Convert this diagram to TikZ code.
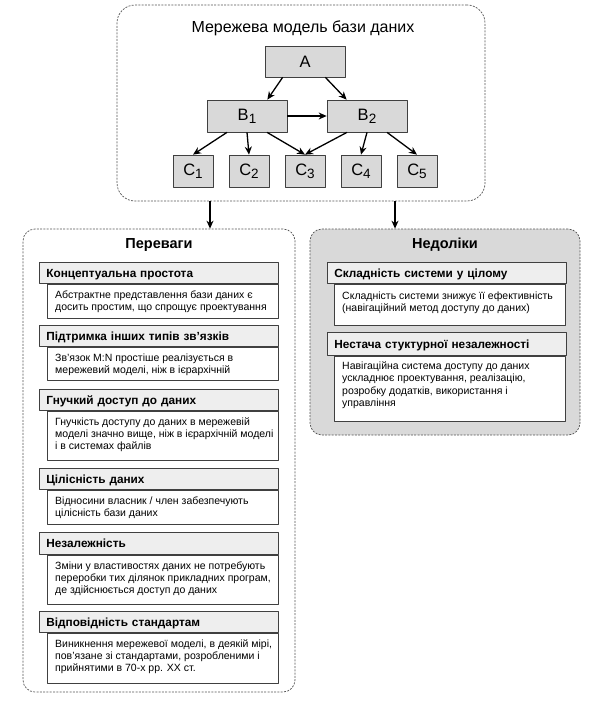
\documentclass[tikz,border=0pt]{standalone}
\usepackage{fontspec}
\setmainfont{Liberation Sans}
\usetikzlibrary{arrows.meta}

\definecolor{boxgray}{HTML}{D9D9D9}
\definecolor{headgray}{HTML}{EEEEEE}
\definecolor{dashgray}{HTML}{555555}

\newcommand{\lowidx}[1]{\raisebox{-3pt}{\fontsize{13.5}{14}\selectfont #1}}

\begin{document}
\begin{tikzpicture}[x=1pt,y=-1pt,line join=round,>={Stealth[length=8pt,width=7pt]},
  group/.style={draw=dashgray,dash pattern=on 2pt off 1.3pt,line width=0.7pt,rounded corners=12pt},
  grouptitle/.style={anchor=base,font=\bfseries\fontsize{14.5}{17}\selectfont},
  netbox/.style={draw=black!75,fill=boxgray,line width=0.7pt,minimum height=32pt,inner sep=0pt,font=\fontsize{16.5}{18}\selectfont},
  head/.style={draw=black!75,fill=headgray,line width=0.7pt,anchor=north west,minimum height=21pt,text width=225pt,align=left,inner xsep=7pt,inner ysep=0pt,text height=8.4pt,text depth=0pt,font=\bfseries\fontsize{11.8}{13}\selectfont},
  body/.style={draw=black!75,fill=white,line width=0.7pt,anchor=north west,minimum width=231pt,inner sep=0pt},
  bodytext/.style={anchor=north west,align=left,inner sep=0pt,font=\fontsize{10.5}{12.2}\selectfont},
  link/.style={->,line width=1.3pt}]
\useasboundingbox (0,0) rectangle (592,706);

% containers
\node[group,rounded corners=18pt,minimum width=368pt,minimum height=196pt] (net) at (301,103) {};
\node[group,minimum width=272pt,minimum height=463pt] (pros) at (159,460.5) {};
\node[group,fill=boxgray,minimum width=270pt,minimum height=206pt] (cons) at (445,332) {};

% network model
\node[anchor=base,font=\fontsize{16}{18}\selectfont] (nettitle) at (303,32.5) {Мережева модель бази даних};
\node[netbox,minimum width=80pt,minimum height=31pt] (A) at (305,61.5) {A};
\node[netbox,minimum width=80pt] (B1) at (247,116) {B\lowidx{1}};
\node[netbox,minimum width=80pt] (B2) at (367,116) {B\lowidx{2}};
\node[netbox,minimum width=40pt] (C1) at (193,171) {C\lowidx{1}};
\node[netbox,minimum width=40pt] (C2) at (249,171) {C\lowidx{2}};
\node[netbox,minimum width=40pt] (C3) at (305,171) {C\lowidx{3}};
\node[netbox,minimum width=40pt] (C4) at (361,171) {C\lowidx{4}};
\node[netbox,minimum width=40pt] (C5) at (417,171) {C\lowidx{5}};

\draw[link] ([xshift=18pt]A.south west) -- ([xshift=-20pt]B1.north east);
\draw[link] ([xshift=-20pt]A.south east) -- ([xshift=20pt]B2.north west);
\draw[link] (B1.east) -- (B2.west);
\draw[link] ([xshift=-20pt]B1.south) -- (C1.north);
\draw[link] (B1.south) -- (C2.north);
\draw[link] ([xshift=20pt]B1.south) -- (C3.north);
\draw[link] ([xshift=-20pt]B2.south) -- (C3.north);
\draw[link] (B2.south) -- (C4.north);
\draw[link] ([xshift=20pt]B2.south) -- (C5.north);

\draw[link] ([xshift=-91pt]net.south) -- ([xshift=-91pt]net.south |- pros.north);
\draw[link] ([xshift=94pt]net.south) -- ([xshift=94pt]net.south |- cons.north);

% advantages
\node[grouptitle] (prostitle) at (159,248.5) {Переваги};
\node[head] (ph1) at (39,262) {Концептуальна простота};
\node[body,minimum height=34pt] (pb1) at ([xshift=8pt]ph1.south west) {};
\node[bodytext] (pt1) at ([shift={(8pt,-6.5pt)}]pb1.north west)
  {Абстрактне представлення бази даних є\\досить простим, що спрощує проектування};
\node[head] (ph2) at (39,325) {Підтримка інших типів зв'язків};
\node[body,minimum height=33pt] (pb2) at ([xshift=8pt]ph2.south west) {};
\node[bodytext] (pt2) at ([shift={(8pt,-6.5pt)}]pb2.north west)
  {Зв'язок M:N простіше реалізується в\\мережевий моделі, ніж в ієрархічній};
\node[head] (ph3) at (39,389) {Гнучкий доступ до даних};
\node[body,minimum height=49pt] (pb3) at ([xshift=8pt]ph3.south west) {};
\node[bodytext] (pt3) at ([shift={(8pt,-6.5pt)}]pb3.north west)
  {Гнучкість доступу до даних в мережевій\\моделі значно вище, ніж в ієрархічній моделі\\і в системах файлів};
\node[head] (ph4) at (39,468) {Цілісність даних};
\node[body,minimum height=34pt] (pb4) at ([xshift=8pt]ph4.south west) {};
\node[bodytext] (pt4) at ([shift={(8pt,-6.5pt)}]pb4.north west)
  {Відносини власник / член забезпечують\\цілісність бази даних};
\node[head,minimum height=22pt] (ph5) at (39,532) {Незалежність};
\node[body,minimum height=49pt] (pb5) at ([xshift=8pt]ph5.south west) {};
\node[bodytext] (pt5) at ([shift={(8pt,-6.5pt)}]pb5.north west)
  {Зміни у властивостях даних не потребують\\переробки тих ділянок прикладних програм,\\де здійснюється доступ до даних};
\node[head] (ph6) at (39,611) {Відповідність стандартам};
\node[body,minimum height=50pt] (pb6) at ([xshift=8pt]ph6.south west) {};
\node[bodytext] (pt6) at ([shift={(8pt,-6.5pt)}]pb6.north west)
  {Виникнення мережевої моделі, в деякій мірі,\\пов'язане зі стандартами, розробленими і\\прийнятими в 70-х рр. XX ст.};

% disadvantages
\node[grouptitle] (constitle) at (445,248.5) {Недоліки};
\node[head] (ch1) at (327,262) {Складність системи у цілому};
\node[body,minimum height=41pt] (cb1) at ([xshift=7pt]ch1.south west) {};
\node[bodytext] (ct1) at ([shift={(8pt,-7.5pt)}]cb1.north west)
  {Складність системи знижує її ефективність\\(навігаційний метод доступу до даних)};
\node[head,minimum height=23pt] (ch2) at (327,332) {Нестача стуктурної незалежності};
\node[body,minimum height=65pt] (cb2) at ([xshift=7pt]ch2.south west) {};
\node[bodytext] (ct2) at ([shift={(8pt,-6pt)}]cb2.north west)
  {Навігаційна система доступу до даних\\ускладнює проектування, реалізацію,\\розробку додатків, використання і\\управління};
\end{tikzpicture}
\end{document}
